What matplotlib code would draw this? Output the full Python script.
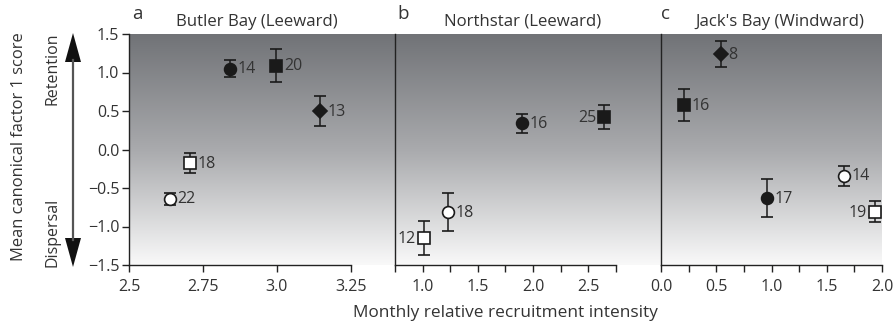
import numpy as np
import matplotlib
matplotlib.use("Agg")
import matplotlib.pyplot as plt
from matplotlib.colors import LinearSegmentedColormap
from matplotlib.patches import Polygon

plt.rcParams['font.family'] = ['Open Sans', 'DejaVu Sans']

# ---- data ----
panel_letters = ["a", "b", "c"]
panel_titles = ["Butler Bay (Leeward)", "Northstar (Leeward)", "Jack's Bay (Windward)"]

a_x = [2.84, 2.997, 3.144, 2.705, 2.637]
a_y = [1.05, 1.09, 0.50, -0.18, -0.64]
a_err = [0.11, 0.21, 0.19, 0.13, 0.08]
a_n = ["14", "20", "13", "18", "22"]
a_marker = ["o", "s", "D", "s", "o"]
a_fill = [True, True, True, False, False]
a_side = ["r", "r", "r", "r", "r"]

b_x = [1.90, 2.64, 1.23, 1.01]
b_y = [0.34, 0.42, -0.81, -1.15]
b_err = [0.12, 0.16, 0.25, 0.22]
b_n = ["16", "25", "18", "12"]
b_marker = ["o", "s", "o", "s"]
b_fill = [True, True, False, False]
b_side = ["r", "l", "r", "l"]

c_x = [0.54, 0.205, 0.958, 1.653, 1.934]
c_y = [1.24, 0.575, -0.63, -0.34, -0.81]
c_err = [0.165, 0.21, 0.25, 0.13, 0.135]
c_n = ["8", "16", "17", "14", "19"]
c_marker = ["D", "s", "o", "o", "s"]
c_fill = [True, True, True, False, False]
c_side = ["r", "r", "r", "r", "l"]

xlims = [(2.5, 3.25), (0.75, 2.75), (0.0, 2.0)]
xmajor = [[2.5, 2.75, 3.0, 3.25], [1.0, 1.5, 2.0, 2.5], [0.0, 0.5, 1.0, 1.5, 2.0]]
xmajor_labels = [["2.5", "2.75", "3.0", "3.25"], ["1.0", "1.5", "2.0", "2.5"],
                 ["0.0", "0.5", "1.0", "1.5", "2.0"]]
xminor = [[], [0.75, 1.25, 1.75, 2.25, 2.75], [0.25, 0.75, 1.25, 1.75]]
yticks = [1.5, 1.0, 0.5, 0.0, -0.5, -1.0, -1.5]
ytick_labels = ["1.5", "1.0", "0.5", "0.0", "\u22120.5", "\u22121.0", "\u22121.5"]

panels = [
    (a_x, a_y, a_err, a_n, a_marker, a_fill, a_side),
    (b_x, b_y, b_err, b_n, b_marker, b_fill, b_side),
    (c_x, c_y, c_err, c_n, c_marker, c_fill, c_side),
]

# ---- figure ----
W, H = 895, 329
fig = plt.figure(figsize=(W / 100, H / 100), dpi=100)
txt = "#333333"

def fx(px):
    return px / W

def fy(py):
    return 1 - py / H

top, bot = 34, 265
lefts = [129, 395, 661]
rights = [351, 616, 882]

# gradient background
bg = fig.add_axes([fx(129), fy(bot), fx(882 - 129), fy(top) - fy(bot)], zorder=0)
cmap = LinearSegmentedColormap.from_list("g", ["#717377", "#a9aaad", "#f9f9f9"])
grad = np.linspace(0, 1, 256).reshape(-1, 1)
bg.imshow(grad, aspect="auto", cmap=cmap, extent=[0, 1, 1, 0])
bg.axis("off")

fs_tick = 11.5
for i, (xs, ys, es, ns, ms, fills, sides) in enumerate(panels):
    ax = fig.add_axes([fx(lefts[i]), fy(bot), fx(rights[i] - lefts[i]), fy(top) - fy(bot)], zorder=2)
    ax.patch.set_alpha(0)
    ax.set_xlim(*xlims[i])
    ax.set_ylim(-1.5, 1.5)
    for s in ["top", "right"]:
        ax.spines[s].set_visible(False)
    for s in ["left", "bottom"]:
        ax.spines[s].set_color("#222222")
        ax.spines[s].set_linewidth(1.0)
    ax.set_xticks(xmajor[i])
    ax.set_xticklabels(xmajor_labels[i])
    ax.set_xticks(xminor[i], minor=True)
    ax.tick_params(axis="x", which="both", direction="out", length=5, width=1.0,
                   color="#222222", labelsize=fs_tick, labelcolor=txt, pad=5)
    if i == 0:
        ax.set_yticks(yticks)
        ax.set_yticklabels(ytick_labels)
        ax.tick_params(axis="y", direction="out", length=5, width=1.0, color="#222222",
                       labelsize=fs_tick, labelcolor=txt, pad=2)
    else:
        ax.set_yticks([])
    for x, y, e, n, m, f, sd in zip(xs, ys, es, ns, ms, fills, sides):
        ms_size = 7 if m == "D" else 8.5
        ax.errorbar(x, y, yerr=e, fmt=m, ms=ms_size,
                    mfc="#1a1a1a" if f else "white", mec="#1a1a1a", mew=1.2,
                    ecolor="#1a1a1a", elinewidth=1.1, capsize=4, capthick=1.1, zorder=3)
        if sd == "r":
            ax.annotate(n, (x, y), xytext=(5.5, -0.5), textcoords="offset points",
                        ha="left", va="center", fontsize=fs_tick, color=txt)
        else:
            ax.annotate(n, (x, y), xytext=(-5.5, -0.5), textcoords="offset points",
                        ha="right", va="center", fontsize=fs_tick, color=txt)

# panel letters and titles
letter_x = [137, 403, 665]
title_x = [257, 523, 780]
for i in range(3):
    fig.text(fx(letter_x[i]), fy(14), panel_letters[i], fontsize=13.5, color=txt,
             ha="center", va="center")
    fig.text(fx(title_x[i]), fy(22), panel_titles[i], fontsize=12.1, color=txt,
             ha="center", va="center")

# axis labels
fig.text(fx(505), fy(313), "Monthly relative recruitment intensity", fontsize=12.4,
         color=txt, ha="center", va="center")
fig.text(fx(19), fy(147), "Mean canonical factor 1 score", fontsize=11.9, color=txt,
         ha="center", va="center", rotation=90)

# double arrow
fig.add_artist(matplotlib.lines.Line2D([fx(73), fx(73)], [fy(60), fy(240)],
                                       transform=fig.transFigure, color="#555555", lw=1.6))
for tip, base in [(33, 62), (267, 238)]:
    fig.add_artist(Polygon([(fx(73), fy(tip)), (fx(65), fy(base)), (fx(81), fy(base))],
                           closed=True, transform=fig.transFigure,
                           facecolor="#111111", edgecolor="none"))
fig.text(fx(53), fy(69), "Retention", fontsize=11.5, color=txt, ha="center",
         va="center", rotation=90)
fig.text(fx(53), fy(232), "Dispersal", fontsize=11.5, color=txt, ha="center",
         va="center", rotation=90)

fig.savefig("out.png", dpi=100)
